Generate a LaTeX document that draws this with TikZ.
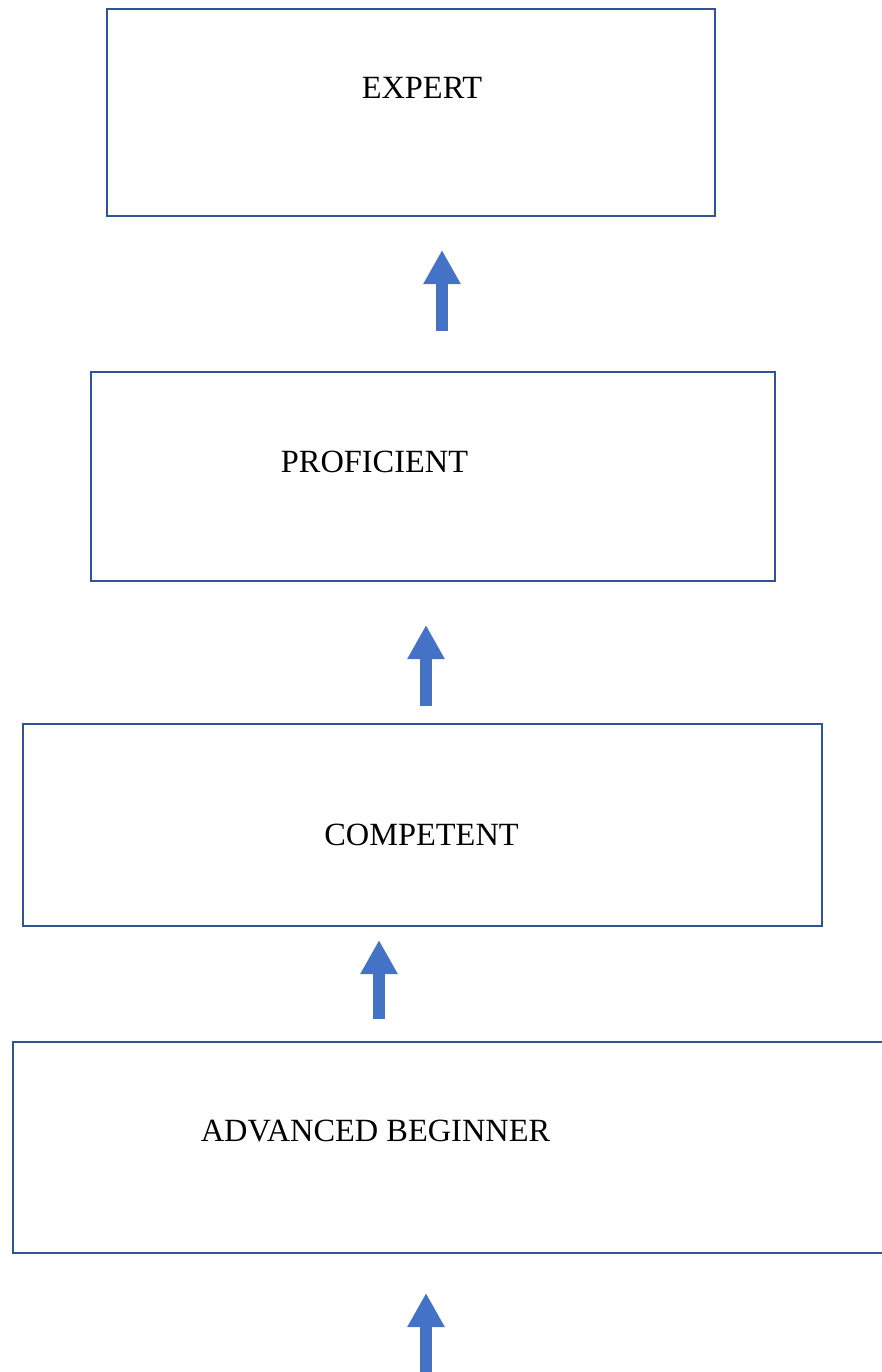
\documentclass[tikz,border=0pt]{standalone}
\usepackage{fontspec}
\setmainfont{Liberation Serif}
\usetikzlibrary{arrows.meta}
\definecolor{boxblue}{HTML}{2F5597}
\definecolor{arrowblue}{HTML}{4472C4}
\tikzset{
  stage/.style={draw=boxblue, line width=2.4pt, fill=none, inner sep=0pt},
  lbl/.style={inner sep=0pt, font=\fontsize{32.4}{38}\selectfont, text=black},
  blockarrow/.style={draw=arrowblue, line width=12pt, -{Triangle[width=35pt,length=34pt]}},
}
\begin{document}
\begin{tikzpicture}[x=1pt,y=-1pt]
\useasboundingbox (0,0) rectangle (882,1372);
\clip (0,0) rectangle (882,1372);
% boxes
\node[stage, minimum width=608pt, minimum height=207pt] (expert) at (411,112.5) {};
\node[stage, minimum width=684pt, minimum height=209pt] (prof) at (433,476.5) {};
\node[stage, minimum width=799pt, minimum height=202pt] (comp) at (422.5,825) {};
\node[stage, minimum width=880pt, minimum height=211pt] (adv) at (453,1147.5) {};
% labels
\node[lbl] (texpert) at (422,88) {EXPERT};
\node[lbl] (tprof) at (374.5,462) {PROFICIENT};
\node[lbl] (tcomp) at (421.5,835) {COMPETENT};
\node[lbl] (tadv) at (375.5,1131) {ADVANCED BEGINNER};
% arrows
\coordinate (a1s) at (442,331); \coordinate (a1e) at (442,250);
\coordinate (a2s) at (426,706); \coordinate (a2e) at (426,625);
\coordinate (a3s) at (379,1019); \coordinate (a3e) at (379,940);
\coordinate (a4s) at (426,1380); \coordinate (a4e) at (426,1293);
\draw[blockarrow] (a1s) -- (a1e);
\draw[blockarrow] (a2s) -- (a2e);
\draw[blockarrow] (a3s) -- (a3e);
\draw[blockarrow] (a4s) -- (a4e);
\end{tikzpicture}
\end{document}
